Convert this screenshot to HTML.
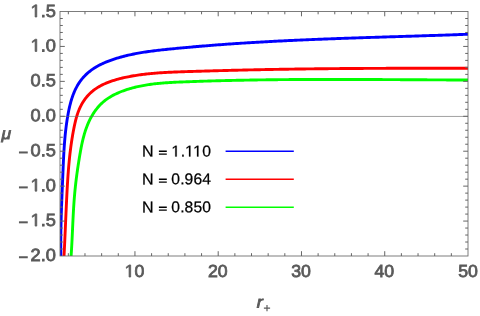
<!DOCTYPE html>
<html><head><meta charset="utf-8"><style>
html,body{margin:0;padding:0;background:#fff;}
svg{display:block;font-family:"Liberation Sans",sans-serif;will-change:transform;}
</style></head><body>
<svg width="480" height="316" viewBox="0 0 480 316">
<rect width="480" height="316" fill="#fff"/>
<defs><clipPath id="c"><rect x="60.0" y="11.5" width="408.0" height="244.5"/></clipPath></defs>
<g clip-path="url(#c)">
<path d="M61.02,261.98 L60.98,260.52 L60.95,259.06 L60.92,257.60 L60.89,256.13 L60.86,254.67 L60.84,253.20 L60.82,251.74 L60.81,250.27 L60.80,248.80 L60.79,247.34 L60.78,245.87 L60.78,244.40 L60.78,242.93 L60.79,241.47 L60.79,240.00 L60.80,238.53 L60.81,237.06 L60.83,235.59 L60.85,234.12 L60.87,232.65 L60.89,231.18 L60.91,229.71 L60.94,228.24 L60.97,226.77 L61.00,225.30 L61.03,223.83 L61.07,222.36 L61.11,220.88 L61.15,219.41 L61.19,217.94 L61.23,216.47 L61.27,215.00 L61.32,213.53 L61.37,212.06 L61.42,210.59 L61.47,209.11 L61.52,207.64 L61.57,206.17 L61.62,204.70 L61.68,203.23 L61.73,201.76 L61.79,200.29 L61.85,198.82 L61.91,197.35 L61.96,195.88 L62.02,194.41 L62.08,192.94 L62.14,191.47 L62.20,190.00 L62.27,188.53 L62.33,187.06 L62.39,185.60 L62.45,184.13 L62.51,182.66 L62.57,181.20 L62.63,179.73 L62.70,178.26 L62.76,176.80 L62.82,175.33 L62.88,173.87 L62.94,172.41 L63.00,170.94 L63.06,169.48 L63.12,168.02 L63.18,166.56 L63.24,165.09 L63.31,163.63 L63.37,162.17 L63.44,160.71 L63.51,159.25 L63.58,157.79 L63.66,156.33 L63.73,154.87 L63.81,153.41 L63.90,151.95 L63.99,150.49 L64.08,149.03 L64.17,147.57 L64.27,146.11 L64.38,144.65 L64.49,143.19 L64.60,141.73 L64.72,140.27 L64.85,138.81 L64.98,137.35 L65.11,135.89 L65.26,134.43 L65.41,132.97 L65.57,131.51 L65.73,130.05 L65.91,128.59 L66.09,127.13 L66.27,125.67 L66.47,124.21 L66.68,122.74 L66.89,121.28 L67.11,119.82 L67.34,118.35 L67.59,116.89 L67.84,115.42 L68.10,113.96 L68.37,112.49 L68.66,111.03 L68.96,109.57 L69.27,108.11 L69.60,106.66 L69.95,105.22 L70.31,103.78 L70.69,102.35 L71.10,100.92 L71.52,99.51 L71.97,98.10 L72.43,96.71 L72.93,95.33 L73.44,93.96 L73.99,92.61 L74.56,91.27 L75.16,89.95 L75.79,88.65 L76.45,87.36 L77.14,86.09 L77.86,84.84 L78.61,83.62 L79.41,82.41 L80.23,81.23 L81.09,80.07 L81.99,78.93 L82.93,77.82 L83.90,76.74 L84.91,75.68 L85.95,74.65 L87.02,73.65 L88.12,72.68 L89.24,71.74 L90.40,70.82 L91.58,69.94 L92.78,69.09 L94.01,68.27 L95.26,67.48 L96.52,66.72 L97.81,66.00 L99.11,65.30 L100.43,64.63 L101.77,63.99 L103.11,63.37 L104.47,62.77 L105.83,62.19 L107.21,61.64 L108.59,61.10 L109.98,60.58 L111.37,60.08 L112.76,59.60 L114.16,59.13 L115.56,58.67 L116.96,58.23 L118.37,57.80 L119.78,57.39 L121.19,56.99 L122.60,56.61 L124.02,56.23 L125.44,55.87 L126.87,55.52 L128.30,55.19 L129.72,54.86 L131.16,54.55 L132.59,54.25 L134.03,53.96 L135.46,53.68 L136.90,53.40 L138.35,53.14 L139.79,52.89 L141.24,52.64 L142.68,52.40 L144.13,52.18 L145.58,51.95 L147.03,51.74 L148.49,51.53 L149.94,51.33 L151.40,51.14 L152.86,50.95 L154.31,50.77 L155.77,50.59 L157.23,50.41 L158.69,50.25 L160.15,50.08 L161.62,49.92 L163.08,49.76 L164.54,49.61 L166.00,49.45 L167.47,49.30 L168.93,49.15 L170.39,49.01 L171.86,48.86 L173.32,48.72 L174.78,48.57 L176.25,48.43 L177.71,48.29 L179.17,48.15 L180.64,48.01 L182.10,47.87 L183.57,47.74 L185.03,47.60 L186.49,47.47 L187.96,47.34 L189.42,47.20 L190.88,47.07 L192.35,46.94 L193.81,46.82 L195.27,46.69 L196.74,46.56 L198.20,46.44 L199.67,46.31 L201.13,46.19 L202.59,46.07 L204.06,45.95 L205.52,45.83 L206.99,45.71 L208.45,45.59 L209.91,45.48 L211.38,45.36 L212.84,45.25 L214.31,45.14 L215.77,45.02 L217.23,44.91 L218.70,44.80 L220.16,44.69 L221.63,44.58 L223.09,44.48 L224.56,44.37 L226.02,44.27 L227.48,44.16 L228.95,44.06 L230.41,43.96 L231.88,43.86 L233.34,43.76 L234.81,43.66 L236.27,43.56 L237.74,43.46 L239.20,43.36 L240.67,43.27 L242.13,43.17 L243.60,43.08 L245.06,42.99 L246.53,42.89 L247.99,42.80 L249.46,42.71 L250.92,42.62 L252.39,42.53 L253.85,42.45 L255.32,42.36 L256.78,42.27 L258.25,42.19 L259.72,42.10 L261.18,42.02 L262.65,41.94 L264.11,41.85 L265.58,41.77 L267.05,41.69 L268.51,41.61 L269.98,41.53 L271.44,41.45 L272.91,41.38 L274.38,41.30 L275.84,41.22 L277.31,41.15 L278.78,41.07 L280.24,41.00 L281.71,40.93 L283.17,40.85 L284.64,40.78 L286.11,40.71 L287.58,40.64 L289.04,40.57 L290.51,40.50 L291.98,40.43 L293.44,40.36 L294.91,40.30 L296.38,40.23 L297.84,40.16 L299.31,40.10 L300.78,40.03 L302.25,39.97 L303.71,39.90 L305.18,39.84 L306.65,39.78 L308.12,39.72 L309.58,39.65 L311.05,39.59 L312.52,39.53 L313.99,39.47 L315.45,39.41 L316.92,39.35 L318.39,39.29 L319.86,39.24 L321.32,39.18 L322.79,39.12 L324.26,39.06 L325.73,39.01 L327.20,38.95 L328.66,38.90 L330.13,38.84 L331.60,38.78 L333.07,38.73 L334.53,38.68 L336.00,38.62 L337.47,38.57 L338.94,38.52 L340.41,38.46 L341.88,38.41 L343.34,38.36 L344.81,38.31 L346.28,38.26 L347.75,38.21 L349.22,38.15 L350.68,38.10 L352.15,38.05 L353.62,38.00 L355.09,37.95 L356.56,37.91 L358.03,37.86 L359.49,37.81 L360.96,37.76 L362.43,37.71 L363.90,37.66 L365.37,37.61 L366.84,37.57 L368.30,37.52 L369.77,37.47 L371.24,37.42 L372.71,37.38 L374.18,37.33 L375.65,37.28 L377.11,37.24 L378.58,37.19 L380.05,37.14 L381.52,37.10 L382.99,37.05 L384.46,37.01 L385.93,36.96 L387.39,36.91 L388.86,36.87 L390.33,36.82 L391.80,36.78 L393.27,36.73 L394.74,36.68 L396.20,36.64 L397.67,36.59 L399.14,36.55 L400.61,36.50 L402.08,36.46 L403.55,36.41 L405.01,36.36 L406.48,36.32 L407.95,36.27 L409.42,36.23 L410.89,36.18 L412.35,36.13 L413.82,36.09 L415.29,36.04 L416.76,36.00 L418.23,35.95 L419.70,35.90 L421.16,35.86 L422.63,35.81 L424.10,35.76 L425.57,35.72 L427.04,35.67 L428.50,35.62 L429.97,35.57 L431.44,35.53 L432.91,35.48 L434.38,35.43 L435.84,35.38 L437.31,35.33 L438.78,35.29 L440.25,35.24 L441.71,35.19 L443.18,35.14 L444.65,35.09 L446.12,35.04 L447.58,34.99 L449.05,34.94 L450.52,34.89 L451.99,34.84 L453.45,34.78 L454.92,34.73 L456.39,34.68 L457.86,34.63 L459.32,34.57 L460.79,34.52 L462.26,34.47 L463.72,34.41 L465.19,34.36 L466.66,34.31 L468.13,34.25 L469.59,34.19 L471.06,34.14 L472.53,34.08 L473.99,34.03" fill="none" stroke="#0000ff" stroke-width="2.9" stroke-linejoin="round"/>
<path d="M63.69,261.99 L63.77,260.59 L63.85,259.19 L63.92,257.79 L64.00,256.39 L64.07,254.98 L64.14,253.58 L64.22,252.18 L64.29,250.78 L64.36,249.37 L64.43,247.97 L64.50,246.56 L64.56,245.16 L64.63,243.75 L64.70,242.34 L64.76,240.94 L64.83,239.53 L64.89,238.12 L64.96,236.72 L65.02,235.31 L65.08,233.90 L65.14,232.49 L65.21,231.08 L65.27,229.67 L65.33,228.26 L65.39,226.86 L65.45,225.45 L65.52,224.04 L65.58,222.63 L65.64,221.22 L65.70,219.81 L65.76,218.40 L65.83,216.99 L65.89,215.58 L65.95,214.17 L66.01,212.76 L66.08,211.35 L66.14,209.95 L66.20,208.54 L66.27,207.13 L66.33,205.72 L66.40,204.31 L66.47,202.91 L66.53,201.50 L66.60,200.09 L66.67,198.69 L66.74,197.28 L66.81,195.88 L66.88,194.47 L66.95,193.07 L67.03,191.66 L67.10,190.26 L67.18,188.86 L67.26,187.45 L67.34,186.05 L67.42,184.65 L67.50,183.25 L67.59,181.85 L67.67,180.45 L67.76,179.05 L67.86,177.65 L67.95,176.25 L68.05,174.85 L68.15,173.45 L68.26,172.05 L68.36,170.65 L68.47,169.25 L68.59,167.86 L68.71,166.46 L68.83,165.06 L68.96,163.67 L69.09,162.27 L69.22,160.87 L69.36,159.48 L69.50,158.08 L69.65,156.68 L69.80,155.29 L69.96,153.89 L70.12,152.50 L70.29,151.10 L70.46,149.71 L70.64,148.31 L70.82,146.92 L71.01,145.52 L71.21,144.13 L71.41,142.73 L71.62,141.34 L71.83,139.94 L72.05,138.55 L72.28,137.15 L72.52,135.76 L72.76,134.36 L73.00,132.97 L73.26,131.57 L73.52,130.18 L73.79,128.79 L74.07,127.39 L74.35,126.00 L74.65,124.60 L74.96,123.21 L75.28,121.83 L75.62,120.44 L75.97,119.07 L76.35,117.69 L76.74,116.33 L77.16,114.98 L77.60,113.63 L78.07,112.30 L78.57,110.98 L79.09,109.67 L79.65,108.37 L80.24,107.09 L80.87,105.83 L81.53,104.58 L82.22,103.36 L82.95,102.15 L83.71,100.97 L84.50,99.81 L85.32,98.68 L86.17,97.58 L87.06,96.51 L87.97,95.47 L88.92,94.46 L89.90,93.48 L90.90,92.54 L91.93,91.64 L92.99,90.77 L94.08,89.93 L95.19,89.12 L96.33,88.35 L97.49,87.60 L98.67,86.88 L99.87,86.20 L101.09,85.54 L102.33,84.90 L103.58,84.29 L104.86,83.71 L106.14,83.15 L107.45,82.62 L108.77,82.11 L110.09,81.61 L111.44,81.14 L112.79,80.69 L114.15,80.26 L115.52,79.85 L116.89,79.46 L118.27,79.08 L119.66,78.71 L121.05,78.37 L122.45,78.03 L123.84,77.71 L125.24,77.40 L126.64,77.11 L128.04,76.82 L129.43,76.55 L130.83,76.29 L132.23,76.03 L133.63,75.79 L135.02,75.56 L136.42,75.34 L137.82,75.12 L139.22,74.92 L140.62,74.73 L142.02,74.54 L143.41,74.36 L144.81,74.19 L146.21,74.03 L147.61,73.88 L149.01,73.73 L150.41,73.59 L151.81,73.46 L153.21,73.34 L154.61,73.22 L156.01,73.10 L157.41,73.00 L158.81,72.89 L160.21,72.80 L161.61,72.71 L163.01,72.62 L164.41,72.54 L165.81,72.46 L167.21,72.39 L168.61,72.32 L170.01,72.25 L171.42,72.19 L172.82,72.13 L174.22,72.07 L175.62,72.01 L177.02,71.96 L178.43,71.91 L179.83,71.86 L181.23,71.81 L182.63,71.76 L184.04,71.71 L185.44,71.67 L186.84,71.62 L188.25,71.57 L189.65,71.53 L191.05,71.48 L192.46,71.44 L193.86,71.39 L195.27,71.35 L196.67,71.31 L198.08,71.26 L199.48,71.22 L200.89,71.18 L202.29,71.14 L203.70,71.09 L205.11,71.05 L206.51,71.01 L207.92,70.97 L209.32,70.93 L210.73,70.89 L212.14,70.85 L213.54,70.81 L214.95,70.77 L216.36,70.73 L217.76,70.69 L219.17,70.65 L220.58,70.61 L221.98,70.58 L223.39,70.54 L224.80,70.50 L226.21,70.46 L227.61,70.43 L229.02,70.39 L230.43,70.36 L231.84,70.32 L233.25,70.29 L234.65,70.25 L236.06,70.22 L237.47,70.18 L238.88,70.15 L240.29,70.11 L241.70,70.08 L243.11,70.05 L244.51,70.02 L245.92,69.98 L247.33,69.95 L248.74,69.92 L250.15,69.89 L251.56,69.86 L252.97,69.83 L254.38,69.80 L255.78,69.77 L257.19,69.74 L258.60,69.71 L260.01,69.68 L261.42,69.65 L262.83,69.62 L264.24,69.60 L265.65,69.57 L267.06,69.54 L268.47,69.52 L269.87,69.49 L271.28,69.46 L272.69,69.44 L274.10,69.41 L275.51,69.39 L276.92,69.36 L278.33,69.34 L279.74,69.31 L281.15,69.29 L282.56,69.27 L283.96,69.24 L285.37,69.22 L286.78,69.20 L288.19,69.18 L289.60,69.15 L291.01,69.13 L292.42,69.11 L293.83,69.09 L295.23,69.07 L296.64,69.05 L298.05,69.03 L299.46,69.01 L300.87,68.99 L302.28,68.97 L303.68,68.95 L305.09,68.94 L306.50,68.92 L307.91,68.90 L309.32,68.88 L310.72,68.87 L312.13,68.85 L313.54,68.83 L314.95,68.82 L316.36,68.80 L317.76,68.79 L319.17,68.77 L320.58,68.76 L321.99,68.74 L323.39,68.73 L324.80,68.71 L326.21,68.70 L327.62,68.69 L329.02,68.67 L330.43,68.66 L331.84,68.65 L333.25,68.63 L334.65,68.62 L336.06,68.61 L337.47,68.60 L338.88,68.59 L340.28,68.57 L341.69,68.56 L343.10,68.55 L344.50,68.54 L345.91,68.53 L347.32,68.52 L348.73,68.51 L350.13,68.50 L351.54,68.49 L352.95,68.48 L354.35,68.47 L355.76,68.47 L357.17,68.46 L358.58,68.45 L359.98,68.44 L361.39,68.43 L362.80,68.43 L364.20,68.42 L365.61,68.41 L367.02,68.40 L368.42,68.40 L369.83,68.39 L371.24,68.38 L372.65,68.38 L374.05,68.37 L375.46,68.36 L376.87,68.36 L378.27,68.35 L379.68,68.35 L381.09,68.34 L382.49,68.34 L383.90,68.33 L385.31,68.33 L386.72,68.32 L388.12,68.32 L389.53,68.31 L390.94,68.31 L392.34,68.31 L393.75,68.30 L395.16,68.30 L396.57,68.30 L397.97,68.29 L399.38,68.29 L400.79,68.29 L402.19,68.28 L403.60,68.28 L405.01,68.28 L406.42,68.27 L407.82,68.27 L409.23,68.27 L410.64,68.27 L412.05,68.27 L413.45,68.26 L414.86,68.26 L416.27,68.26 L417.68,68.26 L419.08,68.26 L420.49,68.25 L421.90,68.25 L423.31,68.25 L424.71,68.25 L426.12,68.25 L427.53,68.25 L428.94,68.25 L430.34,68.25 L431.75,68.25 L433.16,68.25 L434.57,68.24 L435.98,68.24 L437.38,68.24 L438.79,68.24 L440.20,68.24 L441.61,68.24 L443.02,68.24 L444.42,68.24 L445.83,68.24 L447.24,68.24 L448.65,68.24 L450.06,68.24 L451.47,68.24 L452.87,68.24 L454.28,68.24 L455.69,68.24 L457.10,68.24 L458.51,68.24 L459.92,68.24 L461.33,68.24 L462.74,68.24 L464.14,68.24 L465.55,68.24 L466.96,68.24 L468.37,68.24 L469.78,68.24 L471.19,68.25 L472.60,68.25 L474.01,68.25" fill="none" stroke="#ff0000" stroke-width="2.9" stroke-linejoin="round"/>
<path d="M70.63,261.99 L70.74,260.64 L70.85,259.29 L70.95,257.95 L71.05,256.60 L71.15,255.25 L71.24,253.89 L71.33,252.54 L71.42,251.19 L71.50,249.84 L71.58,248.48 L71.66,247.13 L71.73,245.77 L71.81,244.42 L71.88,243.06 L71.95,241.70 L72.02,240.35 L72.08,238.99 L72.15,237.63 L72.22,236.27 L72.28,234.91 L72.34,233.56 L72.40,232.20 L72.47,230.84 L72.53,229.48 L72.59,228.12 L72.65,226.76 L72.72,225.40 L72.78,224.04 L72.84,222.68 L72.91,221.33 L72.97,219.97 L73.04,218.61 L73.11,217.25 L73.18,215.89 L73.25,214.54 L73.32,213.18 L73.39,211.82 L73.47,210.47 L73.55,209.11 L73.63,207.76 L73.72,206.41 L73.81,205.05 L73.90,203.70 L73.99,202.35 L74.09,201.00 L74.19,199.65 L74.29,198.30 L74.40,196.95 L74.51,195.61 L74.63,194.26 L74.75,192.92 L74.88,191.57 L75.01,190.23 L75.14,188.89 L75.28,187.55 L75.42,186.21 L75.57,184.87 L75.72,183.53 L75.88,182.19 L76.04,180.85 L76.20,179.51 L76.36,178.18 L76.54,176.84 L76.71,175.50 L76.89,174.16 L77.07,172.82 L77.26,171.48 L77.45,170.15 L77.64,168.81 L77.83,167.47 L78.04,166.13 L78.24,164.79 L78.45,163.45 L78.66,162.10 L78.87,160.76 L79.09,159.42 L79.31,158.07 L79.53,156.73 L79.76,155.38 L79.99,154.03 L80.23,152.68 L80.47,151.33 L80.71,149.98 L80.96,148.63 L81.22,147.29 L81.49,145.94 L81.76,144.59 L82.05,143.25 L82.34,141.91 L82.65,140.57 L82.97,139.24 L83.30,137.91 L83.65,136.58 L84.01,135.26 L84.38,133.94 L84.78,132.63 L85.18,131.32 L85.61,130.03 L86.06,128.73 L86.52,127.45 L87.01,126.17 L87.51,124.90 L88.04,123.64 L88.59,122.39 L89.16,121.16 L89.75,119.93 L90.36,118.72 L90.99,117.52 L91.65,116.34 L92.33,115.17 L93.03,114.02 L93.76,112.89 L94.51,111.77 L95.28,110.68 L96.07,109.60 L96.89,108.55 L97.74,107.52 L98.61,106.51 L99.50,105.52 L100.42,104.56 L101.37,103.63 L102.34,102.72 L103.34,101.84 L104.36,100.99 L105.41,100.16 L106.48,99.37 L107.58,98.60 L108.70,97.86 L109.84,97.15 L111.00,96.46 L112.17,95.79 L113.37,95.15 L114.58,94.53 L115.80,93.94 L117.04,93.36 L118.29,92.81 L119.55,92.28 L120.82,91.76 L122.09,91.27 L123.38,90.80 L124.66,90.34 L125.96,89.90 L127.25,89.48 L128.55,89.07 L129.85,88.68 L131.16,88.30 L132.47,87.94 L133.78,87.59 L135.09,87.26 L136.41,86.95 L137.73,86.64 L139.05,86.35 L140.38,86.07 L141.71,85.81 L143.04,85.56 L144.37,85.32 L145.71,85.09 L147.04,84.87 L148.38,84.66 L149.72,84.47 L151.07,84.28 L152.41,84.10 L153.76,83.93 L155.11,83.78 L156.46,83.63 L157.81,83.48 L159.16,83.35 L160.52,83.22 L161.88,83.10 L163.23,82.99 L164.59,82.89 L165.95,82.79 L167.31,82.69 L168.67,82.60 L170.03,82.52 L171.39,82.44 L172.76,82.37 L174.12,82.30 L175.48,82.23 L176.84,82.17 L178.21,82.11 L179.57,82.05 L180.94,81.99 L182.30,81.94 L183.66,81.88 L185.03,81.83 L186.39,81.78 L187.75,81.73 L189.11,81.68 L190.48,81.63 L191.84,81.58 L193.20,81.53 L194.56,81.48 L195.92,81.44 L197.28,81.39 L198.64,81.35 L200.00,81.30 L201.36,81.26 L202.72,81.21 L204.08,81.17 L205.44,81.13 L206.80,81.08 L208.16,81.04 L209.51,81.00 L210.87,80.96 L212.23,80.92 L213.59,80.89 L214.94,80.85 L216.30,80.81 L217.66,80.77 L219.01,80.74 L220.37,80.70 L221.73,80.67 L223.08,80.63 L224.44,80.60 L225.79,80.56 L227.15,80.53 L228.50,80.50 L229.86,80.47 L231.21,80.44 L232.57,80.40 L233.92,80.37 L235.28,80.34 L236.63,80.32 L237.99,80.29 L239.34,80.26 L240.69,80.23 L242.05,80.21 L243.40,80.18 L244.76,80.15 L246.11,80.13 L247.46,80.10 L248.82,80.08 L250.17,80.06 L251.53,80.03 L252.88,80.01 L254.23,79.99 L255.59,79.97 L256.94,79.94 L258.29,79.92 L259.65,79.90 L261.00,79.88 L262.35,79.86 L263.71,79.85 L265.06,79.83 L266.41,79.81 L267.77,79.79 L269.12,79.77 L270.47,79.76 L271.83,79.74 L273.18,79.73 L274.53,79.71 L275.89,79.70 L277.24,79.68 L278.59,79.67 L279.95,79.65 L281.30,79.64 L282.66,79.63 L284.01,79.62 L285.37,79.61 L286.72,79.59 L288.07,79.58 L289.43,79.57 L290.78,79.56 L292.14,79.55 L293.49,79.54 L294.85,79.53 L296.20,79.53 L297.56,79.52 L298.91,79.51 L300.27,79.50 L301.63,79.50 L302.98,79.49 L304.34,79.48 L305.69,79.48 L307.05,79.47 L308.40,79.47 L309.76,79.46 L311.12,79.46 L312.47,79.45 L313.83,79.45 L315.19,79.45 L316.54,79.44 L317.90,79.44 L319.26,79.44 L320.61,79.43 L321.97,79.43 L323.33,79.43 L324.69,79.43 L326.04,79.43 L327.40,79.43 L328.76,79.43 L330.12,79.43 L331.47,79.43 L332.83,79.43 L334.19,79.43 L335.55,79.43 L336.90,79.43 L338.26,79.43 L339.62,79.43 L340.98,79.43 L342.34,79.44 L343.69,79.44 L345.05,79.44 L346.41,79.44 L347.77,79.45 L349.13,79.45 L350.49,79.45 L351.84,79.45 L353.20,79.46 L354.56,79.46 L355.92,79.47 L357.28,79.47 L358.64,79.48 L359.99,79.48 L361.35,79.48 L362.71,79.49 L364.07,79.49 L365.43,79.50 L366.79,79.50 L368.15,79.51 L369.50,79.52 L370.86,79.52 L372.22,79.53 L373.58,79.53 L374.94,79.54 L376.30,79.55 L377.66,79.55 L379.01,79.56 L380.37,79.57 L381.73,79.57 L383.09,79.58 L384.45,79.59 L385.81,79.59 L387.17,79.60 L388.52,79.61 L389.88,79.62 L391.24,79.62 L392.60,79.63 L393.96,79.64 L395.32,79.64 L396.68,79.65 L398.03,79.66 L399.39,79.67 L400.75,79.68 L402.11,79.68 L403.47,79.69 L404.82,79.70 L406.18,79.71 L407.54,79.71 L408.90,79.72 L410.26,79.73 L411.61,79.74 L412.97,79.75 L414.33,79.75 L415.69,79.76 L417.04,79.77 L418.40,79.78 L419.76,79.78 L421.12,79.79 L422.47,79.80 L423.83,79.81 L425.19,79.82 L426.55,79.82 L427.90,79.83 L429.26,79.84 L430.62,79.85 L431.97,79.85 L433.33,79.86 L434.69,79.87 L436.04,79.87 L437.40,79.88 L438.76,79.89 L440.11,79.90 L441.47,79.90 L442.82,79.91 L444.18,79.92 L445.54,79.92 L446.89,79.93 L448.25,79.93 L449.60,79.94 L450.96,79.95 L452.31,79.95 L453.67,79.96 L455.02,79.96 L456.38,79.97 L457.73,79.97 L459.09,79.98 L460.44,79.98 L461.80,79.99 L463.15,79.99 L464.50,80.00 L465.86,80.00 L467.21,80.01 L468.57,80.01 L469.92,80.01 L471.27,80.02 L472.63,80.02 L473.98,80.02" fill="none" stroke="#00ff00" stroke-width="2.9" stroke-linejoin="round"/>
</g>
<line x1="60.0" y1="116.45" x2="468.0" y2="116.45" stroke="#666" stroke-width="0.62"/>
<g stroke="#666666" stroke-width="1" fill="none">
<rect x="60.0" y="11.5" width="408.0" height="244.5" stroke-width="0.85"/>
<line x1="60.0" y1="18.49" x2="62.8" y2="18.49"/><line x1="468.0" y1="18.49" x2="465.2" y2="18.49"/><line x1="60.0" y1="25.47" x2="62.8" y2="25.47"/><line x1="468.0" y1="25.47" x2="465.2" y2="25.47"/><line x1="60.0" y1="32.46" x2="62.8" y2="32.46"/><line x1="468.0" y1="32.46" x2="465.2" y2="32.46"/><line x1="60.0" y1="39.44" x2="62.8" y2="39.44"/><line x1="468.0" y1="39.44" x2="465.2" y2="39.44"/><line x1="60.0" y1="46.43" x2="64.8" y2="46.43"/><line x1="468.0" y1="46.43" x2="463.2" y2="46.43"/><line x1="60.0" y1="53.41" x2="62.8" y2="53.41"/><line x1="468.0" y1="53.41" x2="465.2" y2="53.41"/><line x1="60.0" y1="60.40" x2="62.8" y2="60.40"/><line x1="468.0" y1="60.40" x2="465.2" y2="60.40"/><line x1="60.0" y1="67.39" x2="62.8" y2="67.39"/><line x1="468.0" y1="67.39" x2="465.2" y2="67.39"/><line x1="60.0" y1="74.37" x2="62.8" y2="74.37"/><line x1="468.0" y1="74.37" x2="465.2" y2="74.37"/><line x1="60.0" y1="81.36" x2="64.8" y2="81.36"/><line x1="468.0" y1="81.36" x2="463.2" y2="81.36"/><line x1="60.0" y1="88.34" x2="62.8" y2="88.34"/><line x1="468.0" y1="88.34" x2="465.2" y2="88.34"/><line x1="60.0" y1="95.33" x2="62.8" y2="95.33"/><line x1="468.0" y1="95.33" x2="465.2" y2="95.33"/><line x1="60.0" y1="102.31" x2="62.8" y2="102.31"/><line x1="468.0" y1="102.31" x2="465.2" y2="102.31"/><line x1="60.0" y1="109.30" x2="62.8" y2="109.30"/><line x1="468.0" y1="109.30" x2="465.2" y2="109.30"/><line x1="60.0" y1="116.29" x2="64.8" y2="116.29"/><line x1="468.0" y1="116.29" x2="463.2" y2="116.29"/><line x1="60.0" y1="123.27" x2="62.8" y2="123.27"/><line x1="468.0" y1="123.27" x2="465.2" y2="123.27"/><line x1="60.0" y1="130.26" x2="62.8" y2="130.26"/><line x1="468.0" y1="130.26" x2="465.2" y2="130.26"/><line x1="60.0" y1="137.24" x2="62.8" y2="137.24"/><line x1="468.0" y1="137.24" x2="465.2" y2="137.24"/><line x1="60.0" y1="144.23" x2="62.8" y2="144.23"/><line x1="468.0" y1="144.23" x2="465.2" y2="144.23"/><line x1="60.0" y1="151.21" x2="64.8" y2="151.21"/><line x1="468.0" y1="151.21" x2="463.2" y2="151.21"/><line x1="60.0" y1="158.20" x2="62.8" y2="158.20"/><line x1="468.0" y1="158.20" x2="465.2" y2="158.20"/><line x1="60.0" y1="165.19" x2="62.8" y2="165.19"/><line x1="468.0" y1="165.19" x2="465.2" y2="165.19"/><line x1="60.0" y1="172.17" x2="62.8" y2="172.17"/><line x1="468.0" y1="172.17" x2="465.2" y2="172.17"/><line x1="60.0" y1="179.16" x2="62.8" y2="179.16"/><line x1="468.0" y1="179.16" x2="465.2" y2="179.16"/><line x1="60.0" y1="186.14" x2="64.8" y2="186.14"/><line x1="468.0" y1="186.14" x2="463.2" y2="186.14"/><line x1="60.0" y1="193.13" x2="62.8" y2="193.13"/><line x1="468.0" y1="193.13" x2="465.2" y2="193.13"/><line x1="60.0" y1="200.11" x2="62.8" y2="200.11"/><line x1="468.0" y1="200.11" x2="465.2" y2="200.11"/><line x1="60.0" y1="207.10" x2="62.8" y2="207.10"/><line x1="468.0" y1="207.10" x2="465.2" y2="207.10"/><line x1="60.0" y1="214.09" x2="62.8" y2="214.09"/><line x1="468.0" y1="214.09" x2="465.2" y2="214.09"/><line x1="60.0" y1="221.07" x2="64.8" y2="221.07"/><line x1="468.0" y1="221.07" x2="463.2" y2="221.07"/><line x1="60.0" y1="228.06" x2="62.8" y2="228.06"/><line x1="468.0" y1="228.06" x2="465.2" y2="228.06"/><line x1="60.0" y1="235.04" x2="62.8" y2="235.04"/><line x1="468.0" y1="235.04" x2="465.2" y2="235.04"/><line x1="60.0" y1="242.03" x2="62.8" y2="242.03"/><line x1="468.0" y1="242.03" x2="465.2" y2="242.03"/><line x1="60.0" y1="249.01" x2="62.8" y2="249.01"/><line x1="468.0" y1="249.01" x2="465.2" y2="249.01"/><line x1="68.33" y1="256.0" x2="68.33" y2="253.2"/><line x1="68.33" y1="11.5" x2="68.33" y2="14.3"/><line x1="84.98" y1="256.0" x2="84.98" y2="253.2"/><line x1="84.98" y1="11.5" x2="84.98" y2="14.3"/><line x1="101.63" y1="256.0" x2="101.63" y2="253.2"/><line x1="101.63" y1="11.5" x2="101.63" y2="14.3"/><line x1="118.29" y1="256.0" x2="118.29" y2="253.2"/><line x1="118.29" y1="11.5" x2="118.29" y2="14.3"/><line x1="134.94" y1="256.0" x2="134.94" y2="251.2"/><line x1="134.94" y1="11.5" x2="134.94" y2="16.3"/><line x1="151.59" y1="256.0" x2="151.59" y2="253.2"/><line x1="151.59" y1="11.5" x2="151.59" y2="14.3"/><line x1="168.24" y1="256.0" x2="168.24" y2="253.2"/><line x1="168.24" y1="11.5" x2="168.24" y2="14.3"/><line x1="184.90" y1="256.0" x2="184.90" y2="253.2"/><line x1="184.90" y1="11.5" x2="184.90" y2="14.3"/><line x1="201.55" y1="256.0" x2="201.55" y2="253.2"/><line x1="201.55" y1="11.5" x2="201.55" y2="14.3"/><line x1="218.20" y1="256.0" x2="218.20" y2="251.2"/><line x1="218.20" y1="11.5" x2="218.20" y2="16.3"/><line x1="234.86" y1="256.0" x2="234.86" y2="253.2"/><line x1="234.86" y1="11.5" x2="234.86" y2="14.3"/><line x1="251.51" y1="256.0" x2="251.51" y2="253.2"/><line x1="251.51" y1="11.5" x2="251.51" y2="14.3"/><line x1="268.16" y1="256.0" x2="268.16" y2="253.2"/><line x1="268.16" y1="11.5" x2="268.16" y2="14.3"/><line x1="284.82" y1="256.0" x2="284.82" y2="253.2"/><line x1="284.82" y1="11.5" x2="284.82" y2="14.3"/><line x1="301.47" y1="256.0" x2="301.47" y2="251.2"/><line x1="301.47" y1="11.5" x2="301.47" y2="16.3"/><line x1="318.12" y1="256.0" x2="318.12" y2="253.2"/><line x1="318.12" y1="11.5" x2="318.12" y2="14.3"/><line x1="334.78" y1="256.0" x2="334.78" y2="253.2"/><line x1="334.78" y1="11.5" x2="334.78" y2="14.3"/><line x1="351.43" y1="256.0" x2="351.43" y2="253.2"/><line x1="351.43" y1="11.5" x2="351.43" y2="14.3"/><line x1="368.08" y1="256.0" x2="368.08" y2="253.2"/><line x1="368.08" y1="11.5" x2="368.08" y2="14.3"/><line x1="384.73" y1="256.0" x2="384.73" y2="251.2"/><line x1="384.73" y1="11.5" x2="384.73" y2="16.3"/><line x1="401.39" y1="256.0" x2="401.39" y2="253.2"/><line x1="401.39" y1="11.5" x2="401.39" y2="14.3"/><line x1="418.04" y1="256.0" x2="418.04" y2="253.2"/><line x1="418.04" y1="11.5" x2="418.04" y2="14.3"/><line x1="434.69" y1="256.0" x2="434.69" y2="253.2"/><line x1="434.69" y1="11.5" x2="434.69" y2="14.3"/><line x1="451.35" y1="256.0" x2="451.35" y2="253.2"/><line x1="451.35" y1="11.5" x2="451.35" y2="14.3"/>
</g>
<g fill="#5a5a5a" stroke="#5a5a5a" stroke-width="0.8" font-size="17.7px">
<path transform="translate(30.56,17.00) scale(0.00890,-0.00864)" d="M515 0V1237L197 1010V1180L530 1409H696V0Z" vector-effect="non-scaling-stroke"/><text transform="translate(40.70,17.00) rotate(0.05) scale(1.03,1)" font-size="17.7px">.</text><text transform="translate(45.76,17.00) rotate(0.05) scale(1.03,1)" font-size="17.7px">5</text><path transform="translate(30.56,51.43) scale(0.00890,-0.00864)" d="M515 0V1237L197 1010V1180L530 1409H696V0Z" vector-effect="non-scaling-stroke"/><text transform="translate(40.70,51.43) rotate(0.05) scale(1.03,1)" font-size="17.7px">.</text><text transform="translate(45.76,51.43) rotate(0.05) scale(1.03,1)" font-size="17.7px">0</text><text transform="translate(30.56,86.36) rotate(0.05) scale(1.03,1)" font-size="17.7px">0</text><text transform="translate(40.70,86.36) rotate(0.05) scale(1.03,1)" font-size="17.7px">.</text><text transform="translate(45.76,86.36) rotate(0.05) scale(1.03,1)" font-size="17.7px">5</text><text transform="translate(30.56,121.29) rotate(0.05) scale(1.03,1)" font-size="17.7px">0</text><text transform="translate(40.70,121.29) rotate(0.05) scale(1.03,1)" font-size="17.7px">.</text><text transform="translate(45.76,121.29) rotate(0.05) scale(1.03,1)" font-size="17.7px">0</text><rect x="18.96" y="151.46" width="8.8" height="2.0" stroke="none"/><text transform="translate(30.56,156.21) rotate(0.05) scale(1.03,1)" font-size="17.7px">0</text><text transform="translate(40.70,156.21) rotate(0.05) scale(1.03,1)" font-size="17.7px">.</text><text transform="translate(45.76,156.21) rotate(0.05) scale(1.03,1)" font-size="17.7px">5</text><rect x="18.96" y="186.39" width="8.8" height="2.0" stroke="none"/><path transform="translate(30.56,191.14) scale(0.00890,-0.00864)" d="M515 0V1237L197 1010V1180L530 1409H696V0Z" vector-effect="non-scaling-stroke"/><text transform="translate(40.70,191.14) rotate(0.05) scale(1.03,1)" font-size="17.7px">.</text><text transform="translate(45.76,191.14) rotate(0.05) scale(1.03,1)" font-size="17.7px">0</text><rect x="18.96" y="221.32" width="8.8" height="2.0" stroke="none"/><path transform="translate(30.56,226.07) scale(0.00890,-0.00864)" d="M515 0V1237L197 1010V1180L530 1409H696V0Z" vector-effect="non-scaling-stroke"/><text transform="translate(40.70,226.07) rotate(0.05) scale(1.03,1)" font-size="17.7px">.</text><text transform="translate(45.76,226.07) rotate(0.05) scale(1.03,1)" font-size="17.7px">5</text><rect x="18.96" y="256.25" width="8.8" height="2.0" stroke="none"/><text transform="translate(30.56,261.00) rotate(0.05) scale(1.03,1)" font-size="17.7px">2</text><text transform="translate(40.70,261.00) rotate(0.05) scale(1.03,1)" font-size="17.7px">.</text><text transform="translate(45.76,261.00) rotate(0.05) scale(1.03,1)" font-size="17.7px">0</text><path transform="translate(124.64,277.00) scale(0.00865,-0.00854)" d="M515 0V1237L197 1010V1180L530 1409H696V0Z" vector-effect="non-scaling-stroke"/><text transform="translate(134.49,277.00) rotate(0.05) scale(1.012,1)" font-size="17.5px">0</text><text transform="translate(207.90,277.00) rotate(0.05) scale(1.012,1)" font-size="17.5px">2</text><text transform="translate(217.75,277.00) rotate(0.05) scale(1.012,1)" font-size="17.5px">0</text><text transform="translate(291.17,277.00) rotate(0.05) scale(1.012,1)" font-size="17.5px">3</text><text transform="translate(301.02,277.00) rotate(0.05) scale(1.012,1)" font-size="17.5px">0</text><text transform="translate(374.44,277.00) rotate(0.05) scale(1.012,1)" font-size="17.5px">4</text><text transform="translate(384.28,277.00) rotate(0.05) scale(1.012,1)" font-size="17.5px">0</text><text transform="translate(458.20,277.00) rotate(0.05) scale(1.012,1)" font-size="17.5px">5</text><text transform="translate(468.05,277.00) rotate(0.05) scale(1.012,1)" font-size="17.5px">0</text>
</g>
<g fill="#5a5a5a" stroke="#5a5a5a" stroke-width="0.8">
<text transform="translate(1.6,139.0) rotate(0.05) scale(1.08,1)" font-size="16.2px" font-style="italic">μ</text>
<text transform="translate(256.8,307.4) rotate(0.05) scale(1.13,1)" font-size="16.2px" font-style="italic">r</text>
<path d="M263.9,308.15H270.1M267,305.1V311.2" stroke-width="1.15" fill="none"/>
</g>
<g fill="#000" stroke="#000" stroke-width="0.25" font-size="16px">
<text transform="translate(142.00,156.50) rotate(0.05) scale(1.002,1)" font-size="16px">N</text><path d="M158.9,151.30H166.8M158.9,154.10H166.8" stroke-width="1.4" fill="none"/><path transform="translate(171.34,156.50) scale(0.00768,-0.00767)" d="M515 0V1237L197 1010V1180L530 1409H696V0Z" vector-effect="non-scaling-stroke"/><text transform="translate(180.75,156.50) rotate(0.05) scale(1.002,1)" font-size="15.7px">.</text><path transform="translate(185.06,156.50) scale(0.00768,-0.00767)" d="M515 0V1237L197 1010V1180L530 1409H696V0Z" vector-effect="non-scaling-stroke"/><path transform="translate(193.07,156.50) scale(0.00768,-0.00767)" d="M515 0V1237L197 1010V1180L530 1409H696V0Z" vector-effect="non-scaling-stroke"/><text transform="translate(202.19,156.50) rotate(0.05) scale(1.002,1)" font-size="15.7px">0</text><text transform="translate(142.00,184.50) rotate(0.05) scale(1.002,1)" font-size="16px">N</text><path d="M158.9,179.30H166.8M158.9,182.10H166.8" stroke-width="1.4" fill="none"/><text transform="translate(171.34,184.25) rotate(0.05) scale(1.002,1)" font-size="15.6px">0</text><text transform="translate(180.17,184.25) rotate(0.05) scale(1.002,1)" font-size="15.6px">.</text><text transform="translate(184.57,184.25) rotate(0.05) scale(1.002,1)" font-size="15.6px">9</text><text transform="translate(193.40,184.25) rotate(0.05) scale(1.002,1)" font-size="15.6px">6</text><text transform="translate(202.23,184.25) rotate(0.05) scale(1.002,1)" font-size="15.6px">4</text><text transform="translate(142.00,212.50) rotate(0.05) scale(1.002,1)" font-size="16px">N</text><path d="M158.9,207.30H166.8M158.9,210.10H166.8" stroke-width="1.4" fill="none"/><text transform="translate(171.34,212.25) rotate(0.05) scale(1.002,1)" font-size="15.6px">0</text><text transform="translate(180.17,212.25) rotate(0.05) scale(1.002,1)" font-size="15.6px">.</text><text transform="translate(184.57,212.25) rotate(0.05) scale(1.002,1)" font-size="15.6px">8</text><text transform="translate(193.40,212.25) rotate(0.05) scale(1.002,1)" font-size="15.6px">5</text><text transform="translate(202.23,212.25) rotate(0.05) scale(1.002,1)" font-size="15.6px">0</text>
</g>
<g stroke-width="1.6" fill="none">
<line x1="225.6" y1="151.2" x2="293.8" y2="151.2" stroke="#0000ff"/>
<line x1="225.6" y1="179.2" x2="293.8" y2="179.2" stroke="#ff0000"/>
<line x1="225.6" y1="207.2" x2="293.8" y2="207.2" stroke="#00ff00"/>
</g>
</svg>
</body></html>
